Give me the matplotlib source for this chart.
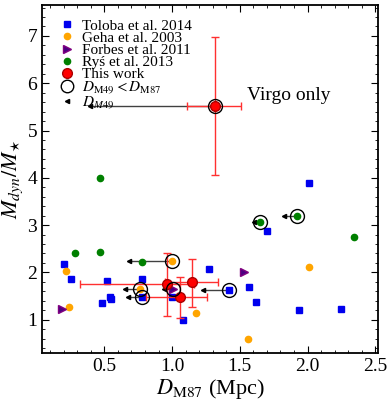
import matplotlib
matplotlib.use('Agg')
import matplotlib.pyplot as plt
from matplotlib.lines import Line2D
from matplotlib.ticker import MultipleLocator

plt.rcParams['font.family'] = ['Liberation Serif', 'DejaVu Serif']
plt.rcParams['mathtext.fontset'] = 'stix'

# Toloba et al. 2014
tol_x = [0.20, 0.25, 0.52, 0.78, 0.48, 0.54, 0.55, 0.78, 1.00, 1.08,
         1.27, 1.57, 1.42, 1.62, 1.94, 2.25, 2.01, 1.70]
tol_y = [2.18, 1.86, 1.81, 1.86, 1.35, 1.48, 1.44, 1.48, 1.48, 1.00,
         2.08, 1.69, 1.62, 1.38, 1.20, 1.23, 3.88, 2.87]
# Geha et al. 2003
geha_x = [0.22, 0.24, 0.76, 1.00, 2.01, 1.18, 1.56]
geha_y = [2.04, 1.26, 1.65, 2.24, 2.12, 1.14, 0.60]
# Forbes et al. 2011
forb_x = [0.19, 1.01, 1.53]
forb_y = [1.23, 1.65, 2.00]
# Rys et al. 2013
rys_x = [0.28, 0.47, 0.47, 0.78, 1.65, 1.92, 2.34]
rys_y = [2.40, 2.43, 4.00, 2.21, 3.07, 3.19, 2.74]
# this work
tw_x = [1.32, 0.96, 1.15, 1.06]
tw_y = [5.51, 1.76, 1.79, 1.48]
tw_xlo = [0.21, 0.64, 0.20, 0.25]
tw_xhi = [0.19, 0.20, 0.19, 0.20]
tw_ylo = [1.45, 0.68, 0.52, 0.45]
tw_yhi = [1.47, 0.66, 0.49, 0.43]
# galaxies closer to M49 than M87: position and D_M49
m49_x = [1.32, 1.00, 0.76, 0.78, 1.01, 1.42, 1.65, 1.92]
m49_y = [5.51, 2.24, 1.65, 1.48, 1.65, 1.62, 3.07, 3.19]
m49_d = [0.39, 0.685, 0.655, 0.675, 0.943, 1.225, 1.607, 1.828]

fig = plt.figure(figsize=(3.9, 4.0), dpi=100)
ax = fig.add_axes([0.108, 0.118, 0.861, 0.869])

for x, y, d in zip(m49_x, m49_y, m49_d):
    ax.plot([d, x], [y, y], color='k', lw=1, alpha=0.75, zorder=2)
    ax.plot(d, y, marker='<', ms=3, color='k', ls='none', zorder=2)

h1, = ax.plot(tol_x, tol_y, 's', color='#0000ee', ms=5, ls='none', zorder=4)
h2, = ax.plot(geha_x, geha_y, 'o', color='orange', ms=4.5, ls='none', zorder=4)
h3, = ax.plot(forb_x, forb_y, '>', color='#4b0082', mec='#800080', ms=5.5,
              ls='none', zorder=4)
h4, = ax.plot(rys_x, rys_y, 'o', color='green', ms=4.5, ls='none', zorder=4)
ax.errorbar(tw_x, tw_y, xerr=[tw_xlo, tw_xhi], yerr=[tw_ylo, tw_yhi], fmt='o',
            color='red', mec='#aa0000', ecolor='#ff3030', elinewidth=1,
            capsize=3, ms=7, zorder=5)
ax.plot(m49_x, m49_y, 'o', mfc='none', mec='k', ms=10, mew=1, ls='none',
        zorder=6)
h5 = Line2D([], [], marker='o', color='red', mec='#aa0000', ms=7, ls='none')
h6 = Line2D([], [], marker='o', mfc='none', mec='k', ms=9, mew=1, ls='none')
h7 = Line2D([], [], marker='<', color='k', ms=3, ls='none')

ax.text(1.86, 5.75, 'Virgo only', fontsize=14, ha='center', va='center')

ax.set_xlim(0.04, 2.52)
ax.set_ylim(0.3, 7.65)
ax.xaxis.set_major_locator(MultipleLocator(0.5))
ax.xaxis.set_minor_locator(MultipleLocator(0.1))
ax.yaxis.set_major_locator(MultipleLocator(1))
ax.yaxis.set_minor_locator(MultipleLocator(0.2))
ax.tick_params(which='both', direction='in', top=True, right=True, labelsize=14)
ax.tick_params(which='major', length=5)
ax.tick_params(which='minor', length=2.5)
for s in ax.spines.values():
    s.set_linewidth(1.3)

ax.set_xlabel(r'$D_{\rm M87}$ (Mpc)', fontsize=16, labelpad=2)
ax.set_ylabel(r'$M_{dyn}/M_{\star}$', fontsize=16, labelpad=2)

ax.legend([h1, h2, h3, h4, h5, h6, h7],
          ['Toloba et al. 2014', 'Geha et al. 2003', 'Forbes et al. 2011',
           'Ryś et al. 2013', 'This work', r'$D_{\rm M49} < D_{\rm M87}$',
           r'$D_{M49}$'],
          loc='upper left', frameon=False, fontsize=11, handletextpad=0.5,
          labelspacing=-0.1, borderaxespad=0.5, handlelength=1.0,
          bbox_to_anchor=(0.01, 1.0))

fig.savefig('out.png', dpi=100)
